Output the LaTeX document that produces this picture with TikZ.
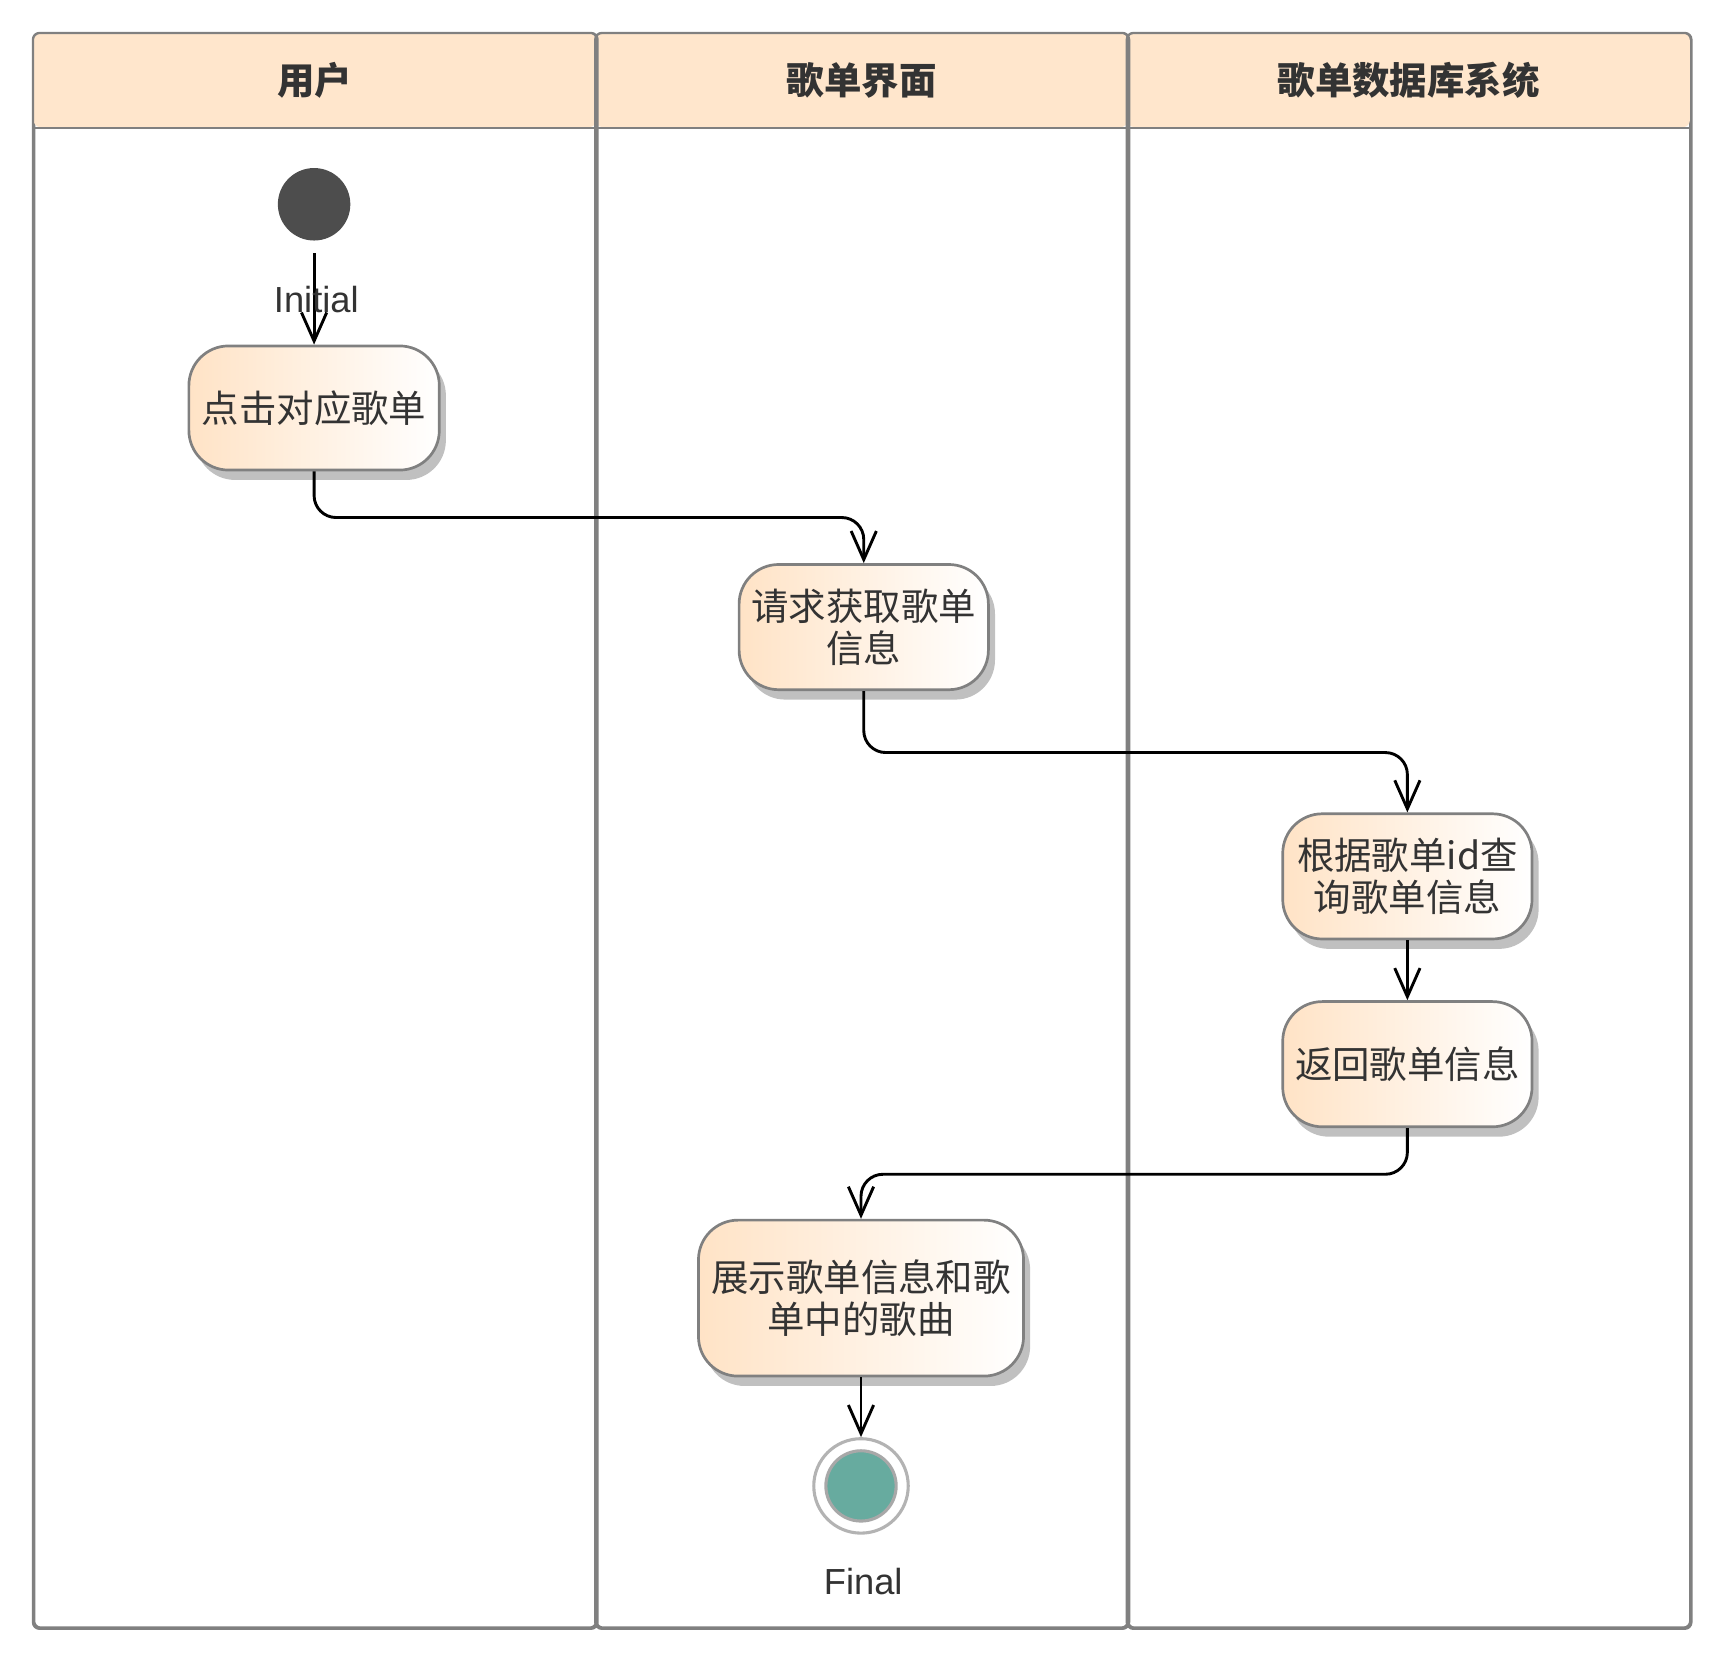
\documentclass[tikz,border=0pt]{standalone}
\usepackage{fontspec}
\setmainfont{Liberation Sans}
\newfontfamily\cjk{Noto Sans CJK SC}
\usetikzlibrary{arrows.meta,shadows,calc}

\definecolor{lanestroke}{HTML}{808080}
\definecolor{headfill}{HTML}{FFE6CC}
\definecolor{txt}{HTML}{333333}
\definecolor{actleft}{HTML}{FFE3C6}
\definecolor{shadowgray}{HTML}{C0C0C0}
\definecolor{initfill}{HTML}{4D4D4D}
\definecolor{finalfill}{HTML}{67AB9F}
\definecolor{finalring}{HTML}{B3B3B3}
\definecolor{finalinner}{HTML}{A8A8A8}

\tikzset{
  lanebody/.style={draw=lanestroke, line width=0.6pt, rounded corners=0.06cm,
    anchor=north west, minimum height=14.51cm, inner sep=0pt},
  lanehead/.style={fill=headfill, rounded corners=0.06cm, anchor=north west,
    minimum height=0.85cm, inner sep=0pt, text=txt,
    font=\cjk\bfseries\fontsize{9.7}{11}\selectfont},
  activity/.style={draw=lanestroke, line width=0.7pt, rounded corners=0.36cm,
    left color=actleft, right color=white, text=txt, align=center, inner sep=0pt,
    font=\cjk\fontsize{9.7}{10.8}\selectfont,
    drop shadow={shadow xshift=0.06cm, shadow yshift=-0.09cm,
      fill=shadowgray, opacity=1}},
  flow/.style={draw=black, line width=0.75pt, rounded corners=0.2cm,
    -{Straight Barb[length=0.26cm, width=0.23cm, line width=0.75pt]}},
  caption/.style={text=txt, font=\fontsize{9.4}{11}\selectfont, inner sep=0pt}
}

\begin{document}
\begin{tikzpicture}
\useasboundingbox (0,0) rectangle (15.68,-15.12);

% swimlanes
\node[lanebody, minimum width=5.12cm] (lane1) at (0.30,-0.30) {};
\node[lanebody, minimum width=4.84cm] (lane2) at (5.42,-0.30) {};
\node[lanebody, minimum width=5.12cm] (lane3) at (10.26,-0.30) {};

\node[lanehead, minimum width=5.12cm] (head1) at (0.30,-0.30) {用户};
\node[lanehead, minimum width=4.84cm] (head2) at (5.42,-0.30) {歌单界面};
\node[lanehead, minimum width=5.12cm] (head3) at (10.26,-0.30) {歌单数据库系统};

\draw[draw=lanestroke, line width=0.6pt, rounded corners=0.06cm]
  (lane1.north west) rectangle (lane1.south east)
  (lane2.north west) rectangle (lane2.south east)
  (lane3.north west) rectangle (lane3.south east);
\draw[draw=lanestroke, line width=0.6pt]
  (head1.south west) -- (head3.south east);

% start node
\node[circle, fill=initfill, minimum size=0.66cm, inner sep=0pt] (init) at (2.86,-1.86) {};

% activities
\node[activity, minimum width=2.28cm, minimum height=1.13cm] (a1) at (2.86,-3.715) {点击对应歌单};
\node[activity, minimum width=2.27cm, minimum height=1.14cm] (a2) at (7.865,-5.71) {请求获取歌单\\信息};
\node[activity, minimum width=2.27cm, minimum height=1.14cm] (a3) at (12.815,-7.98) {根据歌单id查\\询歌单信息};
\node[activity, minimum width=2.27cm, minimum height=1.14cm] (a4) at (12.815,-9.69) {返回歌单信息};
\node[activity, minimum width=2.96cm, minimum height=1.42cm] (a5) at (7.84,-11.82) {展示歌单信息和歌\\单中的歌曲};

% final node
\node[circle, draw=finalring, line width=0.8pt, fill=white, minimum size=0.86cm, inner sep=0pt] (final) at (7.84,-13.53) {};
\node[circle, draw=finalinner, line width=0.8pt, fill=finalfill, minimum size=0.64cm, inner sep=0pt] (finalcore) at (final.center) {};

% flows
\draw[flow, shorten <=0.11cm] (init.south) -- (a1.north);
\node[caption] (initlabel) at (2.88,-2.73) {Initial};
\draw[flow] (a1.south) -- ++(0,-0.42) -| (a2.north);
\draw[flow] (a2.south) -- ++(0,-0.56) -| (a3.north);
\draw[flow] (a3.south) -- (a4.north);
\draw[flow] (a4.south) -- ++(0,-0.42) -| (a5.north);
\draw[flow] (a5.south) -- (final.north);
\node[caption] (finallabel) at (7.86,-14.40) {Final};
\end{tikzpicture}
\end{document}
